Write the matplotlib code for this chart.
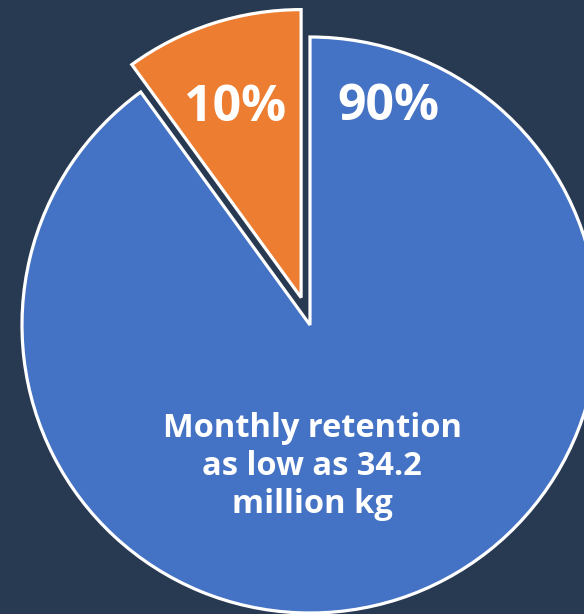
import matplotlib
matplotlib.use("Agg")
import matplotlib.pyplot as plt

categories = ["Share A", "Share B"]
values = [10, 90]
pct_labels = ["10%", "90%"]
note = "Monthly retention\nas low as 34.2\nmillion kg"

BG = "#283a52"
ORANGE = "#ed7d31"
BLUE = "#4472c4"

W, H = 584, 614
fig = plt.figure(figsize=(W / 100, H / 100), dpi=100, facecolor=BG)
ax = fig.add_axes([0, 0, 1, 1])
ax.set_facecolor(BG)

R = 288.0
cx, cy = 310.0, 325.0
ax.pie(values, colors=[ORANGE, BLUE], explode=[0.1, 0], startangle=90,
       counterclock=True, radius=1,
       wedgeprops=dict(edgecolor="white", linewidth=2.3))
ax.set_xlim(-cx / R, (W - cx) / R)
ax.set_ylim(-(H - cy) / R, cy / R)
ax.set_aspect("auto")
ax.axis("off")

font = "Open Sans"
ax.text(-0.26, 0.752, pct_labels[0], ha="center", va="center", color="white",
        fontsize=36, fontweight="bold", family=font)
ax.text(0.271, 0.757, pct_labels[1], ha="center", va="center", color="white",
        fontsize=36, fontweight="bold", family=font)
ax.text(0.007, -0.49, note, ha="center", va="center", color="white",
        fontsize=23.5, fontweight="bold", family=font, linespacing=1.2)

fig.savefig("out.png", dpi=100, facecolor=BG)
